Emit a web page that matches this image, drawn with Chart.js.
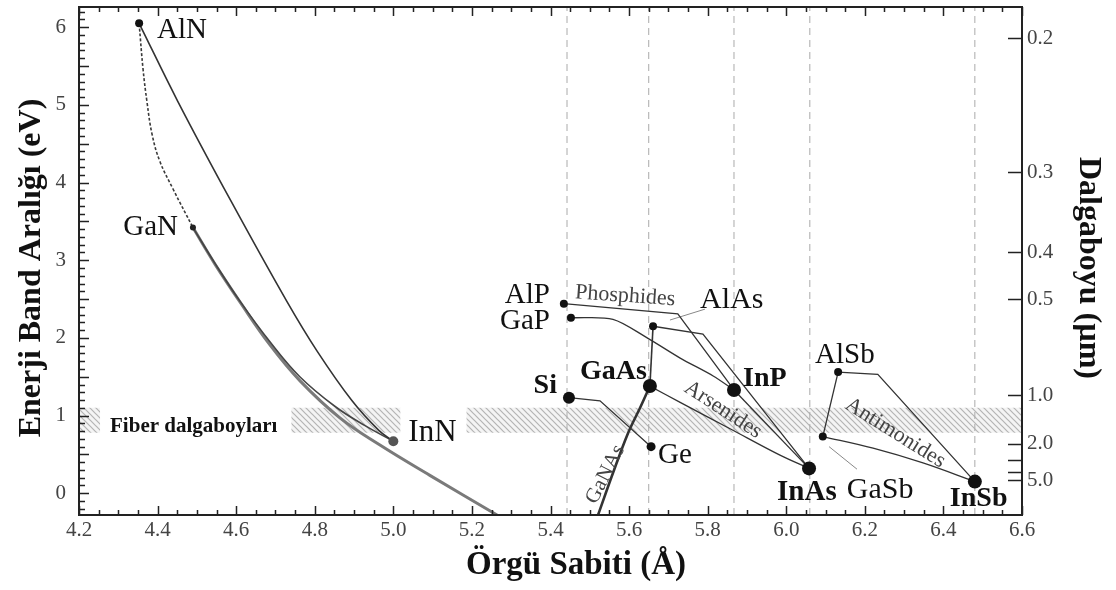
<!DOCTYPE html>
<html>
<head>
<meta charset="utf-8">
<script src="https://cdn.jsdelivr.net/npm/chart.js@4.4.1/dist/chart.umd.min.js"></script>
<style>
  html, body { margin: 0; padding: 0; background: #fff; }
</style>
</head>
<body>
<canvas id="bandgap" width="1116" height="590"></canvas>
<script>
// binary compounds: lattice constant (Å) and band gap (eV)
const compoundNames = ["AlN", "GaN", "InN", "AlP", "GaP", "AlAs", "GaAs", "Si", "Ge", "InP", "InAs", "AlSb", "GaSb", "InSb"];
const latticeConst = [4.353, 4.49, 5.00, 5.434, 5.452, 5.661, 5.653, 5.447, 5.656, 5.867, 6.058, 6.132, 6.093, 6.48];
const bandGap = [6.05, 3.42, 0.67, 2.44, 2.26, 2.15, 1.38, 1.23, 0.60, 1.33, 0.32, 1.56, 0.73, 0.15];

// ternary alloy curves, [lattice, gap]
const alnInn = [[4.353, 6.05], [4.452, 5.04], [4.587, 3.76], [4.729, 2.47], [4.806, 1.83], [4.895, 1.19], [4.963, 0.81], [5.00, 0.67]];
const alnGan = [[4.353, 6.05], [4.363, 5.46], [4.373, 5.04], [4.386, 4.62], [4.406, 4.27], [4.439, 3.92], [4.49, 3.42]];
const ganInn = [[4.49, 3.42], [4.546, 2.96], [4.610, 2.47], [4.686, 1.95], [4.762, 1.50], [4.851, 1.12], [4.928, 0.87], [5.00, 0.67]];
const ganInnBowed = [[4.49, 3.42], [4.546, 2.95], [4.610, 2.46], [4.686, 1.91], [4.762, 1.45], [4.864, 0.97], [4.966, 0.62], [5.093, 0.23], [5.264, -0.28]];
const alpInp = [[5.434, 2.44], [5.724, 2.31], [5.867, 1.33]];
const gapInp = [[5.452, 2.26], [5.559, 2.24], [5.646, 2.00], [5.730, 1.74], [5.814, 1.51], [5.867, 1.33]];
const alasInas = [[5.661, 2.15], [5.788, 2.05], [6.058, 0.32]];
const alasGaas = [[5.661, 2.15], [5.653, 1.38]];
const gaasInas = [[5.653, 1.38], [5.730, 1.17], [5.857, 0.83], [5.984, 0.49], [6.058, 0.32]];
const inpInas = [[5.867, 1.33], [6.058, 0.32]];
const gaasGanas = [[5.653, 1.38], [5.628, 1.10], [5.597, 0.77], [5.559, 0.26], [5.521, -0.28]];
const siGe = [[5.447, 1.23], [5.526, 1.19], [5.656, 0.60]];
const alsbInsb = [[6.132, 1.56], [6.233, 1.53], [6.48, 0.15]];
const alsbGasb = [[6.132, 1.56], [6.093, 0.73]];
const gasbInsb = [[6.093, 0.73], [6.221, 0.58], [6.348, 0.39], [6.48, 0.15]];
const alasPointer = [[5.704, 2.23], [5.793, 2.37]];
const gasbPointer = [[6.109, 0.60], [6.180, 0.31]];

// dashed guides at the binary lattice constants
const guideLattice = [5.442, 5.65, 5.867, 6.06, 6.48];
// fibre window, eV
const fiberBand = [0.78, 1.10];

// axes
const xTickValues = [4.2, 4.4, 4.6, 4.8, 5.0, 5.2, 5.4, 5.6, 5.8, 6.0, 6.2, 6.4, 6.6];
const yTickValues = [0, 1, 2, 3, 4, 5, 6];
const wavelengthLabels = ["0.2", "0.3", "0.4", "0.5", "1.0", "2.0", "", "", "5.0"];
const wavelengthEnergy = [5.86, 4.13, 3.10, 2.50, 1.26, 0.64, 0.43, 0.27, 0.17];

const xMin = 4.2, xMax = 6.6, yMin = -0.28, yMax = 6.26;
const SERIF = "'Liberation Serif', 'Times New Roman', serif";

// label placement relative to each dot (px)
const labelStyle = {
  AlN:  { dx: 18,  dy: 15, align: "left",  size: 29 },
  GaN:  { dx: -15, dy: 7,  align: "right", size: 29 },
  InN:  { dx: 15,  dy: 0,  align: "left",  size: 31 },
  AlP:  { dx: -14, dy: -1, align: "right", size: 29 },
  GaP:  { dx: -21, dy: 11, align: "right", size: 29 },
  AlAs: { dx: 47,  dy: -18, align: "left", size: 30 },
  GaAs: { dx: -3,  dy: -7, align: "right", size: 28, bold: true },
  Si:   { dx: -12, dy: -5, align: "right", size: 28, bold: true },
  Ge:   { dx: 7,   dy: 16, align: "left",  size: 29 },
  InP:  { dx: 9,   dy: -4, align: "left",  size: 28, bold: true },
  InAs: { dx: -32, dy: 32, align: "left",  size: 29, bold: true },
  AlSb: { dx: -23, dy: -9, align: "left",  size: 29 },
  GaSb: { dx: 24,  dy: 61, align: "left",  size: 30 },
  InSb: { dx: -25, dy: 24, align: "left",  size: 28, bold: true }
};
const dotRadius = [4, 3, 5, 4, 4, 4, 7, 6, 4.5, 7, 7, 4, 4, 7];
const dotColor = ["#111", "#222", "#555", "#111", "#111", "#111", "#111", "#111", "#111", "#111", "#111", "#111", "#111", "#111"];

// family names written along the alloy lines
const familyLabels = [
  { text: "Phosphides", x: 5.462, y: 2.51, angle: 4, size: 22 },
  { text: "Arsenides", x: 5.737, y: 1.32, angle: 33, size: 22 },
  { text: "Antimonides", x: 6.147, y: 1.10, angle: 32, size: 22 },
  { text: "GaNAs", x: 5.516, y: -0.15, angle: -63, size: 21 }
];
const fiberText = { text: "Fiber dalgaboyları", x: 4.279, y: 0.86, size: 21 };

function toPoints(pairs) {
  return pairs.map(p => ({ x: p[0], y: p[1] }));
}

function curve(pairs, color, width, extra) {
  return Object.assign({
    data: toPoints(pairs),
    borderColor: color,
    borderWidth: width,
    pointRadius: 0,
    tension: 0,
    fill: false,
    order: 5
  }, extra || {});
}

function hatchPattern() {
  const c = document.createElement("canvas");
  c.width = 6;
  c.height = 6;
  const g = c.getContext("2d");
  g.fillStyle = "#f4f4f4";
  g.fillRect(0, 0, 6, 6);
  g.strokeStyle = "#b4b4b4";
  g.lineWidth = 1.2;
  g.beginPath();
  g.moveTo(0, 0); g.lineTo(6, 6);
  g.moveTo(-3, 3); g.lineTo(3, 9);
  g.moveTo(3, -3); g.lineTo(9, 3);
  g.stroke();
  return g.createPattern(c, "repeat");
}

const datasets = [];

// compound dots on top
datasets.push({
  label: "compounds",
  data: latticeConst.map((x, i) => ({ x: x, y: bandGap[i] })),
  showLine: false,
  pointRadius: dotRadius,
  pointBackgroundColor: dotColor,
  pointBorderWidth: 0,
  order: 0
});

datasets.push(curve(alnInn, "#333", 1.6, { tension: 0.4 }));
datasets.push(curve(alnGan, "#3a3a3a", 1.6, { tension: 0.4, borderDash: [3, 2] }));
datasets.push(curve(ganInn, "#444", 1.6, { tension: 0.4 }));
datasets.push(curve(ganInnBowed, "#7a7a7a", 3, { tension: 0.4, order: 6 }));
datasets.push(curve(alpInp, "#333", 1.3));
datasets.push(curve(gapInp, "#333", 1.3, { tension: 0.3 }));
datasets.push(curve(alasInas, "#333", 1.3));
datasets.push(curve(alasGaas, "#333", 1.6));
datasets.push(curve(gaasInas, "#333", 1.3, { tension: 0.35 }));
datasets.push(curve(inpInas, "#333", 1.3));
datasets.push(curve(gaasGanas, "#333", 2.6, { tension: 0.35 }));
datasets.push(curve(siGe, "#333", 1.3));
datasets.push(curve(alsbInsb, "#333", 1.3));
datasets.push(curve(alsbGasb, "#333", 1.3));
datasets.push(curve(gasbInsb, "#333", 1.3, { tension: 0.35 }));
datasets.push(curve(alasPointer, "#888", 1));
datasets.push(curve(gasbPointer, "#888", 1));

guideLattice.forEach(v => {
  datasets.push(curve([[v, yMin], [v, yMax]], "#aaa", 1, { borderDash: [7, 5], order: 50 }));
});

// fibre window: top edge filled down to the bottom edge
datasets.push({
  label: "fiber-top",
  data: toPoints([[xMin, fiberBand[1]], [xMax, fiberBand[1]]]),
  borderWidth: 0,
  pointRadius: 0,
  fill: "+1",
  backgroundColor: hatchPattern(),
  order: 100
});
datasets.push({
  label: "fiber-bottom",
  data: toPoints([[xMin, fiberBand[0]], [xMax, fiberBand[0]]]),
  borderWidth: 0,
  pointRadius: 0,
  fill: false,
  order: 101
});

function font(size, bold) {
  return (bold ? "bold " : "") + size + "px " + SERIF;
}

// white boxes that clear the hatching behind the in-band labels
const bandLabelBoxes = {
  id: "bandLabelBoxes",
  afterDatasetDraw(chart, args) {
    if (chart.data.datasets[args.index].label !== "fiber-top") return;
    const { ctx, scales } = chart;
    const top = scales.y.getPixelForValue(fiberBand[1]);
    const bottom = scales.y.getPixelForValue(fiberBand[0]);
    ctx.save();
    ctx.fillStyle = "#fff";
    ctx.font = font(fiberText.size, true);
    const fx = scales.x.getPixelForValue(fiberText.x);
    const fw = ctx.measureText(fiberText.text).width;
    ctx.fillRect(fx - 10, top - 1, fw + 24, bottom - top + 2);
    const i = compoundNames.indexOf("InN");
    const st = labelStyle.InN;
    ctx.font = font(st.size, false);
    const nx = scales.x.getPixelForValue(latticeConst[i]) + st.dx;
    const nw = ctx.measureText("InN").width;
    ctx.fillRect(nx - 8, top - 1, nw + 18, bottom - top + 2);
    ctx.restore();
  }
};

// compound names, family names, fibre text
const textLabels = {
  id: "textLabels",
  afterDatasetsDraw(chart) {
    const { ctx, scales } = chart;
    ctx.save();
    ctx.textBaseline = "alphabetic";
    compoundNames.forEach((name, i) => {
      const st = labelStyle[name];
      const px = scales.x.getPixelForValue(latticeConst[i]) + st.dx;
      const py = scales.y.getPixelForValue(bandGap[i]) + st.dy;
      ctx.font = font(st.size, st.bold);
      ctx.fillStyle = "#111";
      ctx.textAlign = st.align;
      ctx.fillText(name, px, py);
    });
    familyLabels.forEach(f => {
      ctx.save();
      ctx.translate(scales.x.getPixelForValue(f.x), scales.y.getPixelForValue(f.y));
      ctx.rotate(f.angle * Math.PI / 180);
      ctx.font = font(f.size, false);
      ctx.fillStyle = "#444";
      ctx.textAlign = "left";
      ctx.fillText(f.text, 0, 0);
      ctx.restore();
    });
    ctx.font = font(fiberText.size, true);
    ctx.fillStyle = "#111";
    ctx.textAlign = "left";
    ctx.textBaseline = "middle";
    ctx.fillText(fiberText.text, scales.x.getPixelForValue(fiberText.x), scales.y.getPixelForValue(fiberText.y));
    ctx.restore();
  }
};

// frame, inward ticks and axis titles
const frameTicks = {
  id: "frameTicks",
  afterDraw(chart) {
    const { ctx, chartArea: a, scales } = chart;
    const x = scales.x, y = scales.y;
    ctx.save();
    ctx.strokeStyle = "#222";
    ctx.lineWidth = 1.5;
    ctx.beginPath();
    const nx = Math.round((xMax - xMin) / 0.05);
    for (let i = 0; i <= nx; i++) {
      const v = xMin + i * 0.05;
      const px = Math.round(x.getPixelForValue(v)) + 0.5;
      const len = i % 4 === 0 ? 9 : 5;
      ctx.moveTo(px, a.bottom); ctx.lineTo(px, a.bottom - len);
      ctx.moveTo(px, a.top); ctx.lineTo(px, a.top + len);
    }
    for (let i = -2; i <= 62; i++) {
      const py = Math.round(y.getPixelForValue(i / 10)) + 0.5;
      const len = i % 5 === 0 ? 10 : 6;
      ctx.moveTo(a.left, py); ctx.lineTo(a.left + len, py);
    }
    wavelengthEnergy.forEach(e => {
      const py = Math.round(y.getPixelForValue(e)) + 0.5;
      ctx.moveTo(a.right, py); ctx.lineTo(a.right - 14, py);
    });
    ctx.stroke();

    ctx.lineWidth = 2;
    ctx.strokeRect(a.left, a.top, a.right - a.left, a.bottom - a.top);

    ctx.fillStyle = "#111";
    ctx.font = font(33, true);
    ctx.textAlign = "center";
    ctx.textBaseline = "alphabetic";
    ctx.fillText("Örgü Sabiti (Å)", 576, 574);

    ctx.save();
    ctx.translate(40, 268);
    ctx.rotate(-Math.PI / 2);
    ctx.font = font(32, true);
    ctx.fillText("Enerji Band Aralığı (eV)", 0, 0);
    ctx.restore();

    ctx.save();
    ctx.translate(1080, 268);
    ctx.rotate(Math.PI / 2);
    ctx.font = font(32, true);
    ctx.fillText("Dalgaboyu (µm)", 0, 0);
    ctx.restore();
    ctx.restore();
  }
};

// fixed axis sizes so the plot frame sits where the labels expect it
function fixVertical(width) {
  return s => {
    s.width = width;
    s.paddingTop = 0;
    s.paddingBottom = 0;
  };
}

new Chart(document.getElementById("bandgap"), {
  type: "line",
  data: { datasets: datasets },
  options: {
    responsive: false,
    animation: false,
    devicePixelRatio: 1,
    layout: { padding: { top: 5, left: 0, right: 0, bottom: 0 } },
    plugins: {
      legend: { display: false },
      tooltip: { enabled: false }
    },
    events: [],
    scales: {
      x: {
        type: "linear",
        min: xMin,
        max: xMax,
        grid: { display: false, drawTicks: false },
        border: { display: false },
        afterBuildTicks: s => { s.ticks = xTickValues.map(v => ({ value: v })); },
        afterFit: s => { s.height = 75; s.paddingLeft = 0; s.paddingRight = 0; },
        ticks: {
          autoSkip: false,
          maxRotation: 0,
          padding: 3,
          color: "#444",
          font: { family: SERIF, size: 21 },
          callback: v => Number(v).toFixed(1)
        }
      },
      y: {
        type: "linear",
        position: "left",
        min: yMin,
        max: yMax,
        grid: { display: false, drawTicks: false },
        border: { display: false },
        afterBuildTicks: s => { s.ticks = yTickValues.map(v => ({ value: v })); },
        afterFit: fixVertical(79),
        ticks: {
          autoSkip: false,
          padding: 13,
          color: "#444",
          font: { family: SERIF, size: 21 },
          callback: v => String(v)
        }
      },
      y2: {
        type: "linear",
        position: "right",
        min: yMin,
        max: yMax,
        grid: { display: false, drawTicks: false },
        border: { display: false },
        afterBuildTicks: s => { s.ticks = wavelengthEnergy.map(v => ({ value: v })); },
        afterFit: fixVertical(94),
        ticks: {
          autoSkip: false,
          padding: 5,
          color: "#444",
          font: { family: SERIF, size: 21 },
          callback: (v, i) => wavelengthLabels[i]
        }
      }
    }
  },
  plugins: [bandLabelBoxes, textLabels, frameTicks]
});
</script>
</body>
</html>
